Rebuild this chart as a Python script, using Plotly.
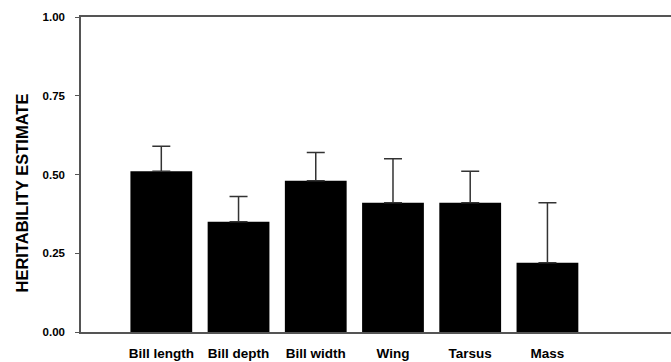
import plotly.graph_objects as go

categories = ["Bill length", "Bill depth", "Bill width", "Wing", "Tarsus", "Mass"]
heritability = [0.51, 0.35, 0.48, 0.41, 0.41, 0.22]
error_plus = [0.08, 0.08, 0.09, 0.14, 0.10, 0.19]
y_ticks = [0.0, 0.25, 0.5, 0.75, 1.0]
y_tick_labels = ["0.00", "0.25", "0.50", "0.75", "1.00"]
y_title = "HERITABILITY ESTIMATE"

FONT = "Liberation Sans, Arial, Helvetica, sans-serif"

fig = go.Figure()
fig.add_trace(go.Bar(
    x=categories,
    y=heritability,
    width=0.8,
    marker=dict(color="black", line=dict(width=0)),
    error_y=dict(type="data", array=error_plus, arrayminus=[0]*len(error_plus),
                 symmetric=False, color="#333333", thickness=1.5, width=9),
))

fig.update_layout(
    width=671, height=362,
    margin=dict(l=81, r=0, t=17, b=30, autoexpand=False),
    paper_bgcolor="white", plot_bgcolor="white",
    showlegend=False,
    font=dict(family=FONT, color="black"),
    xaxis=dict(
        type="category",
        range=[-1.04, 6.6],
        showline=True, linecolor="#555555", linewidth=1.5, mirror=True,
        ticks="", showgrid=False, zeroline=False,
        tickfont=dict(family=FONT, size=13.5, color="black", weight="bold"),
        ticklabelstandoff=8,
        automargin=False,
    ),
    yaxis=dict(
        range=[0, 1.0],
        tickvals=y_ticks, ticktext=y_tick_labels,
        showline=True, linecolor="#555555", linewidth=1.5,
        ticks="outside", ticklen=4, tickwidth=1, tickcolor="#555555",
        showgrid=False, zeroline=False,
        tickfont=dict(family=FONT, size=11.5, color="black", weight="bold"),
        ticklabelstandoff=8,
        automargin=False,
    ),
    annotations=[dict(
        text=y_title, textangle=-90,
        xref="paper", yref="paper",
        x=(21.7 - 81) / 590, y=(331.7 - 192.5) / 315,
        xanchor="center", yanchor="middle", showarrow=False,
        font=dict(family=FONT, size=16.5, color="black", weight="bold"),
    )],
)

fig.write_html("out.html", config={"displayModeBar": False},
               post_script="document.body.style.margin='0';document.body.style.overflow='hidden';")
